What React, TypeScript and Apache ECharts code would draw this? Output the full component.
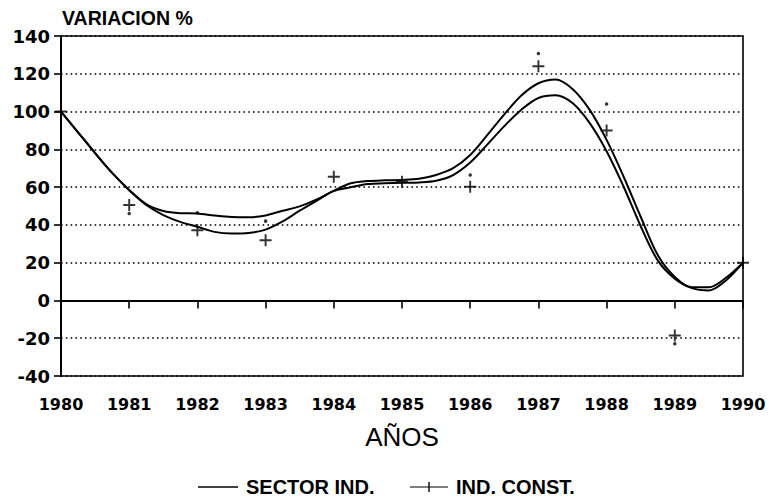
import React, { useEffect, useRef } from "react";
import * as echarts from "echarts";

// Sample positions (years) of the two smoothed curves
const curveYears = [
  1980, 1980.25, 1980.5, 1980.75, 1981, 1981.25, 1981.5, 1981.75,
  1982, 1982.25, 1982.5, 1982.75, 1983, 1983.25, 1983.5, 1983.75,
  1984, 1984.25, 1984.5, 1984.75, 1985, 1985.25, 1985.5, 1985.75,
  1986, 1986.25, 1986.5, 1986.75, 1987, 1987.25, 1987.5, 1987.75,
  1988, 1988.25, 1988.5, 1988.75, 1989, 1989.25, 1989.5, 1989.75, 1990,
];

// SECTOR IND. smoothed curve (%)
const sectorCurve = [
  100, 89, 78, 67.5, 58.5, 51, 47.4, 46.2,
  46, 45, 44.2, 44, 45, 47.5, 49.8, 53.5,
  58, 62, 63.2, 63.6, 63.8, 64.4, 66.4, 70,
  77, 87.5, 98.5, 108.5, 115, 117, 112, 101,
  85, 65.5, 44.3, 24, 12.4, 7, 7, 12, 20,
];

// IND. CONST. smoothed curve (%)
const constCurve = [
  100, 89, 78, 67.5, 58.3, 50.5, 45.2, 41.6,
  39, 36.3, 35.4, 35.7, 37.5, 41.8, 47.5, 52.8,
  58, 59.9, 61.6, 62, 62.3, 62.5, 63.4, 66.4,
  73, 82.5, 92.3, 101, 107.2, 108.6, 104.5, 94,
  79, 60.2, 39.3, 21.2, 11.5, 6.5, 5.3, 10.6, 20,
];

// Annual observations
const pointYears = [1980, 1981, 1982, 1983, 1984, 1985, 1986, 1987, 1988, 1989, 1990];
const constPoints = [100, 50.5, 37.2, 31.9, 65.5, 62.8, 60.2, 124, 90, -18.6, 20];
const sectorPoints: (number | null)[] = [null, 46, 46.4, 42, null, null, 66.4, 130.7, 104, -22.9, null];

const yTicks = { min: -40, max: 140, step: 20 };
const xTicks = { min: 1980, max: 1990, step: 1 };

const PLUS =
  "path://M4.2,0 H5.8 V4.2 H10 V5.8 H5.8 V10 H4.2 V5.8 H0 V4.2 H4.2 Z";
const LEGEND_LINE = "path://M0,0 H40 V1.4 H0 Z";
const LEGEND_PLUS =
  "path://M0,4.4 H18.3 V0 H19.7 V4.4 H38 V5.6 H19.7 V10 H18.3 V5.6 H0 Z";

export default function App() {
  const ref = useRef<HTMLDivElement>(null);

  useEffect(() => {
    if (!ref.current) return;
    const chart = echarts.init(ref.current, undefined, { renderer: "svg" });
    const pair = (xs: number[], ys: (number | null)[]) =>
      xs.map((x, i) => [x, ys[i]]).filter((p) => p[1] !== null);

    const dotted = { type: [1.6, 3.2] as any, color: "#000", width: 1.6 };
    const labelFont = {
      color: "#000",
      fontFamily: "DejaVu Sans",
      fontWeight: "bold" as const,
    };
    const legendText = {
      color: "#000",
      fontFamily: "Liberation Sans",
      fontWeight: "bold" as const,
      fontSize: 20,
      lineHeight: 20,
      padding: [0, 0, 0, 3],
    };

    chart.setOption({
      animation: false,
      backgroundColor: "#fff",
      title: {
        text: "VARIACION %",
        left: 62,
        top: 8,
        padding: 0,
        textStyle: {
          color: "#000",
          fontFamily: "Liberation Sans",
          fontWeight: "bold",
          fontSize: 19.5,
        },
      },
      legend: [
        {
          left: 198,
          top: 477,
          padding: 0,
          selectedMode: false,
          itemWidth: 40,
          itemHeight: 1.4,
          data: [{ name: "SECTOR IND.", icon: LEGEND_LINE }],
          textStyle: legendText,
        },
        {
          left: 410,
          top: 477,
          padding: 0,
          selectedMode: false,
          itemWidth: 38,
          itemHeight: 10,
          data: [{ name: "IND. CONST.", icon: LEGEND_PLUS }],
          textStyle: legendText,
        },
      ],
      grid: {
        left: 61,
        right: 26,
        top: 36,
        bottom: 128,
        show: true,
        borderColor: "#000",
        borderWidth: 1.6,
        backgroundColor: "transparent",
      },
      xAxis: {
        type: "value",
        min: xTicks.min,
        max: xTicks.max,
        interval: xTicks.step,
        name: "AÑOS",
        nameLocation: "middle",
        nameGap: 48,
        nameTextStyle: {
          color: "#000",
          fontFamily: "Liberation Sans",
          fontSize: 26,
        },
        axisLine: { show: true, lineStyle: { color: "#000", width: 2 } },
        axisTick: { show: true, length: 8, lineStyle: { color: "#000", width: 1.6 } },
        axisLabel: {
          ...labelFont,
          fontSize: 16,
          margin: 20,
          formatter: (v: number) => String(v),
        },
        splitLine: { show: false },
      },
      yAxis: {
        type: "value",
        min: yTicks.min,
        max: yTicks.max,
        interval: yTicks.step,
        axisLine: { show: true, lineStyle: { color: "#000", width: 2 } },
        axisTick: { show: true, length: 7, lineStyle: { color: "#000", width: 1.6 } },
        axisLabel: { ...labelFont, fontSize: 18, margin: 11 },
        splitLine: { show: true, lineStyle: dotted },
      },
      series: [
        {
          name: "SECTOR IND.",
          type: "line",
          data: pair(curveYears, sectorCurve),
          smooth: 0.33,
          symbol: "none",
          itemStyle: { color: "#000" },
          lineStyle: { color: "#000", width: 2 },
          markLine: {
            silent: true,
            symbol: ["none", "none"],
            label: { show: false },
            lineStyle: { type: "solid", color: "#000", width: 1.8 },
            data: [{ yAxis: 0 }],
          },
          z: 3,
        },
        {
          name: "IND. CONST.",
          type: "line",
          data: pair(curveYears, constCurve),
          smooth: 0.33,
          symbol: "none",
          itemStyle: { color: "#000" },
          lineStyle: { color: "#000", width: 2 },
          z: 3,
        },
        {
          name: "IND. CONST. datos",
          type: "scatter",
          data: pair(pointYears, constPoints),
          symbol: PLUS,
          symbolSize: 12,
          itemStyle: { color: "#000" },
          z: 4,
        },
        {
          name: "SECTOR IND. datos",
          type: "scatter",
          data: pair(pointYears, sectorPoints),
          symbol: "circle",
          symbolSize: 3.5,
          itemStyle: { color: "#000" },
          z: 4,
        },
      ],
    });

    return () => chart.dispose();
  }, []);

  return (
    <div
      ref={ref}
      style={{ position: "absolute", left: 0, top: 0, width: 769, height: 504 }}
    />
  );
}
